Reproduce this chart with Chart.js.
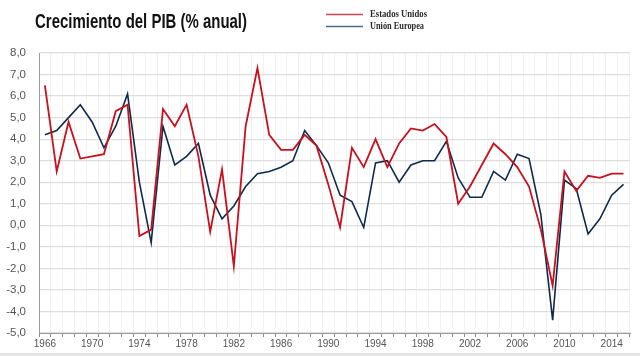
<!DOCTYPE html>
<html>
<head>
<meta charset="utf-8">
<script src="https://cdn.jsdelivr.net/npm/chart.js@4/dist/chart.umd.min.js"></script>
<style>
html,body{margin:0;padding:0;background:#fff;}
#wrap{position:relative;width:640px;height:356px;}
</style>
</head>
<body>
<div id="wrap"><canvas id="c" width="640" height="356"></canvas></div>
<script>
const titleText = "Crecimiento del PIB (% anual)";
const seriesNames = ["Estados Unidos", "Unión Europea"];
const years = [1966,1967,1968,1969,1970,1971,1972,1973,1974,1975,1976,1977,1978,1979,1980,1981,1982,1983,1984,1985,1986,1987,1988,1989,1990,1991,1992,1993,1994,1995,1996,1997,1998,1999,2000,2001,2002,2003,2004,2005,2006,2007,2008,2009,2010,2011,2012,2013,2014,2015];
const usGrowth = [6.5,2.5,4.8,3.1,3.2,3.3,5.3,5.6,-0.5,-0.2,5.4,4.6,5.6,3.2,-0.3,2.6,-1.9,4.6,7.3,4.2,3.5,3.5,4.2,3.7,1.9,-0.1,3.6,2.7,4.0,2.7,3.8,4.5,4.4,4.7,4.1,1.0,1.8,2.8,3.8,3.3,2.7,1.8,-0.2,-2.8,2.5,1.6,2.3,2.2,2.4,2.4];
const euGrowth = [4.2,4.4,5.0,5.6,4.8,3.6,4.6,6.1,2.0,-0.8,4.6,2.8,3.2,3.8,1.4,0.3,0.9,1.8,2.4,2.5,2.7,3.0,4.4,3.7,2.9,1.4,1.1,-0.1,2.9,3.0,2.0,2.8,3.0,3.0,3.9,2.2,1.3,1.3,2.5,2.1,3.3,3.1,0.5,-4.4,2.1,1.7,-0.4,0.3,1.4,1.9];
const yTicks = [8,7,6,5,4,3,2,1,0,-1,-2,-3,-4,-5];

const RED = "#c8101e";
const BLUE = "#0e2a4c";

function drawCondensed(ctx, text, x, y, targetW) {
  const w = ctx.measureText(text).width;
  const sx = Math.min(1, targetW / w);
  ctx.save();
  ctx.translate(x, y);
  ctx.scale(sx, 1);
  ctx.fillText(text, 0, 0);
  ctx.restore();
}

const headerPlugin = {
  id: "header",
  afterDraw(chart) {
    const ctx = chart.ctx;
    ctx.save();
    ctx.fillStyle = "#111";
    ctx.font = "bold 20px 'Liberation Sans', Arial, sans-serif";
    ctx.textBaseline = "alphabetic";
    ctx.textAlign = "left";
    drawCondensed(ctx, titleText, 35, 27.5, 212);
    const items = [[seriesNames[0], "#cf4652", 14.5, 17, 57], [seriesNames[1], "#4d6b8c", 26.5, 28.5, 54]];
    items.forEach(([t, col, ly, ty, tw]) => {
      ctx.strokeStyle = col;
      ctx.lineWidth = 1.5;
      ctx.beginPath();
      ctx.moveTo(326, ly);
      ctx.lineTo(363, ly);
      ctx.stroke();
      ctx.fillStyle = "#2a2a2a";
      ctx.font = "bold 10px 'Liberation Serif', 'DejaVu Serif', serif";
      drawCondensed(ctx, t, 370, ty, tw);
    });
    ctx.fillStyle = "#e4e4e4";
    ctx.fillRect(0, 353, 640, 3);
    ctx.restore();
  }
};

new Chart(document.getElementById("c"), {
  type: "line",
  data: {
    datasets: [
      { label: seriesNames[0], data: years.map((y, i) => ({x: y, y: usGrowth[i]})), borderColor: RED, borderWidth: 1.8, pointRadius: 0, tension: 0, fill: false },
      { label: seriesNames[1], data: years.map((y, i) => ({x: y, y: euGrowth[i]})), borderColor: BLUE, borderWidth: 1.6, pointRadius: 0, tension: 0, fill: false }
    ]
  },
  options: {
    responsive: false,
    animation: false,
    events: [],
    layout: { padding: { top: 53, right: 10, left: 0, bottom: 0 } },
    plugins: { legend: { display: false }, title: { display: false }, tooltip: { enabled: false } },
    scales: {
      x: {
        type: "linear",
        min: 1965.5,
        max: 2015.55,
        afterBuildTicks(scale) { scale.ticks = years.map(v => ({ value: v })); },
        afterFit(scale) { scale.height = 23; scale.paddingLeft = 0; scale.paddingRight = 0; },
        border: { display: true, color: "#9a9a9a", width: 1 },
        grid: { offset: true, color: "#f1f1f1", lineWidth: 1, drawTicks: true, tickLength: 4, tickColor: "#8a8a8a", tickWidth: 1 },
        ticks: {
          autoSkip: false, maxRotation: 0, minRotation: 0, padding: 1,
          color: "#555",
          font: { family: "'Liberation Sans', Arial, sans-serif", size: 10 },
          callback: (v) => ((v - 1966) % 4 === 0 ? String(v) : "")
        }
      },
      y: {
        min: -5, max: 8,
        afterBuildTicks(scale) { scale.ticks = yTicks.map(v => ({ value: v })); },
        afterFit(scale) { scale.width = 39; },
        border: { display: true, color: "#9a9a9a", width: 1 },
        grid: { color: "#dedede", lineWidth: 1.2, drawTicks: false },
        ticks: {
          padding: 13, color: "#555",
          font: { family: "'Liberation Sans', Arial, sans-serif", size: 11.5 },
          callback: (v) => v.toFixed(1).replace(".", ",")
        }
      }
    }
  },
  plugins: [headerPlugin]
});
</script>
</body>
</html>
